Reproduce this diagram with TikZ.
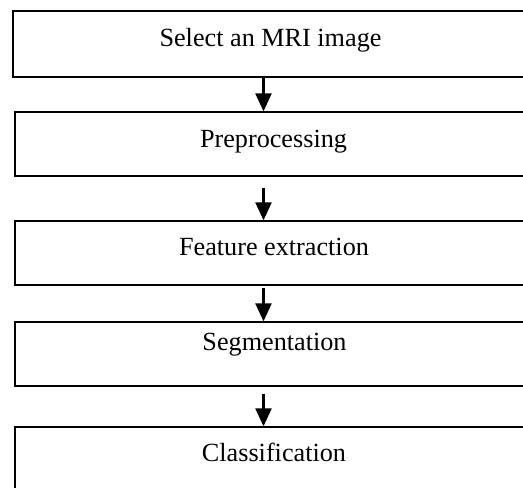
\documentclass[tikz,border=0pt]{standalone}
\usepackage{fontspec}
\setmainfont{Liberation Serif}
\usetikzlibrary{arrows.meta}
\begin{document}
\begin{tikzpicture}[x=1pt,y=-1pt,
  stage/.style={draw, line width=1.3pt, inner sep=0pt, minimum height=#1},
  stage/.default=64pt,
  lbl/.style={anchor=base, inner sep=0pt, font=\fontsize{26.2}{31}\selectfont},
  flow/.style={line width=2.2pt, -{Triangle[width=16pt,length=18pt]}}]
\useasboundingbox (0,0) rectangle (523,488);

% process stages (right edges run past the page)
\node[stage=66pt, minimum width=517pt] (b1) at (271.5,44) {};
\node[stage, minimum width=515pt] (b2) at (272.5,144) {};
\node[stage, minimum width=515pt] (b3) at (272.5,253) {};
\node[stage, minimum width=515pt] (b4) at (272.5,354) {};
\node[stage=73pt, minimum width=515pt] (b5) at (272.5,463.5) {};

% the arrows run slightly left of the stage centres
\coordinate (ax) at (263.5,0);

% stage labels
\node[lbl] (t1) at (270.5,46.5) {Select an MRI image};
\node[lbl] (t2) at (273.5,147.7) {Preprocessing};
\node[lbl] (t3) at (274,255.7) {Feature extraction};
\node[lbl] (t4) at (274.5,350) {Segmentation};
\node[lbl] (t5) at (274,461.7) {Classification};

% flow between stages
\draw[flow] (ax |- b1.south) -- (ax |- b2.north);
\draw[flow] ([yshift=-11pt]ax |- b2.south) -- (ax |- b3.north);
\draw[flow] ([yshift=-2pt]ax |- b3.south) -- (ax |- b4.north);
\draw[flow] ([yshift=-7pt]ax |- b4.south) -- (ax |- b5.north);
\end{tikzpicture}
\end{document}
